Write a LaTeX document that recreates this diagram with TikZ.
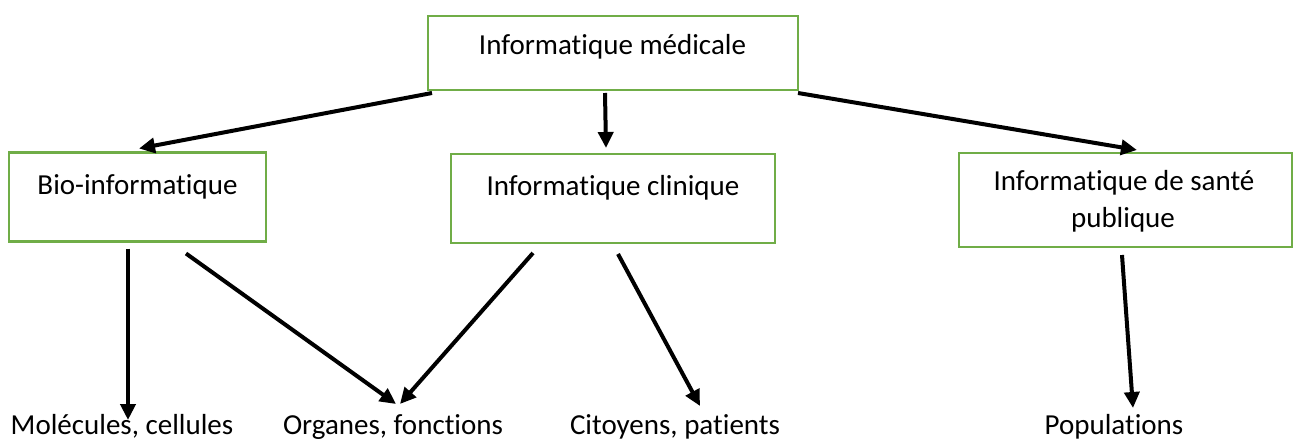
\documentclass[tikz,border=0pt]{standalone}
\usepackage{fontspec}
\setmainfont{Carlito}[Ligatures={NoCommon}]
\usetikzlibrary{arrows.meta,calc}
\definecolor{boxgreen}{HTML}{70AD47}
\tikzset{
  box/.style={draw=boxgreen, line width=2.6pt, fill=white, inner sep=0pt, outer sep=0pt},
  lbl/.style={inner sep=0pt, anchor=base, font=\fontsize{29}{37}\selectfont},
  link/.style={line width=4pt, -{Triangle[length=16pt,width=15pt]}},
}
\begin{document}
\begin{tikzpicture}[x=1pt,y=-1pt]
\useasboundingbox (0,0) rectangle (1296,441);

% category boxes
\node[box, minimum width=370pt, minimum height=74pt] (med) at (613,53) {};
\node[box, minimum width=257pt, minimum height=89pt] (bio) at (137.5,197) {};
\node[box, minimum width=324pt, minimum height=89pt] (cli) at (613,198.5) {};
\node[box, minimum width=333pt, minimum height=94pt] (pub) at (1125.5,200) {};

% box captions
\node[lbl] (tmed) at (612.5,55) {Informatique médicale};
\node[lbl] (tbio) at (137.5,194) {Bio-informatique};
\node[lbl] (tcli) at (613,196) {Informatique clinique};
\node[lbl] (tpub1) at (1124,190) {Informatique de santé};
\node[lbl] (tpub2) at (1123,227) {publique};

% bottom level
\node[lbl] (mol) at (122,434) {Molécules, cellules};
\node[lbl] (org) at (393,434) {Organes, fonctions};
\node[lbl] (cit) at (675,434) {Citoyens, patients};
\node[lbl] (pop) at (1114,434) {Populations};

% arrow ends above the bottom labels
\coordinate (emol) at (128,420);
\coordinate (eorgL) at (396,404);
\coordinate (eorgR) at (400,404);
\coordinate (ecit) at (700,406);
\coordinate (epop) at (1133,408);

% top level to categories
\draw[link] ($(med.south west)+(4,3)$) -- ($(bio.north west)+(130,-4)$);
\draw[link] ($(med.south)+(-8,3)$) -- ($(cli.north)+(-7,-6)$);
\draw[link] ($(med.south east)+(0,3)$) -- ($(pub.north west)+(178,-3)$);

% categories to bottom level
\draw[link] ($(bio.south west)+(119,7)$) -- (emol);
\draw[link] ($(bio.south west)+(177,12)$) -- (eorgL);
\draw[link] ($(cli.south west)+(82,10)$) -- (eorgR);
\draw[link] ($(cli.south west)+(167,11)$) -- (ecit);
\draw[link] ($(pub.south west)+(163,8)$) -- (epop);
\end{tikzpicture}
\end{document}
